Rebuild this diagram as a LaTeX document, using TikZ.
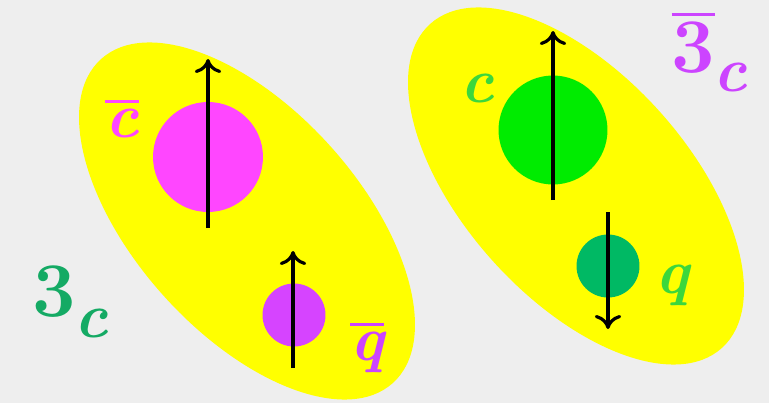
\documentclass[tikz,border=0pt]{standalone}
\usepackage{tikz}
\usetikzlibrary{arrows.meta,positioning,calc}
\tikzset{every picture/.style={line width=0.75pt}}
\definecolor{bggray}{RGB}{238,238,238}
\definecolor{blobyel}{RGB}{255,255,0}
\definecolor{cbarmag}{RGB}{255,70,255}
\definecolor{qbarpur}{RGB}{214,68,255}
\definecolor{lblpur}{RGB}{204,68,255}
\definecolor{cgreen}{RGB}{0,236,0}
\definecolor{qgreen}{RGB}{0,185,100}
\definecolor{lblgreen}{RGB}{60,215,60}
\definecolor{tealgreen}{RGB}{20,170,100}
\newcommand{\barlbl}[1]{\setbox0=\hbox{#1}\rlap{\raisebox{\dimexpr\ht0+3pt\relax}{\rule{\wd0}{2pt}}}\box0}

\begin{document}
\begin{tikzpicture}[x=0.02cm,y=-0.02cm,
    quark/.style={circle,inner sep=0pt},
    spin/.style={line width=1.8pt,-{To[length=8pt,width=15pt]}},
    lbl/.style={inner sep=0pt,anchor=base,font=\fontsize{36}{40}\selectfont\bfseries\itshape},
    rep/.style={inner sep=0pt,anchor=base west,font=\fontsize{44}{48}\selectfont\bfseries}]
    \fill[bggray] (0,0) rectangle (769,403);
    \useasboundingbox (0,0) rectangle (769,403);
    \coordinate (lblob) at (247,221);
    \coordinate (rblob) at (576,186);
    \fill[blobyel, rotate around={-48:(lblob)}] (lblob) ellipse [x radius=218, y radius=112];
    \fill[blobyel, rotate around={-48:(rblob)}] (rblob) ellipse [x radius=218, y radius=112];

    \node[quark, fill=cbarmag, minimum size=2.2cm] (cbar) at (208,157) {};
    \node[quark, fill=qbarpur, minimum size=1.26cm] (qbar) at (294,315) {};
    \node[quark, fill=cgreen, minimum size=2.18cm] (c) at (553,130) {};
    \node[quark, fill=qgreen, minimum size=1.26cm] (q) at (608,266) {};

    \coordinate (cbarS) at (208,228);
    \coordinate (cbarN) at (208,59);
    \coordinate (qbarS) at (293,368);
    \coordinate (qbarN) at (293,251);
    \coordinate (cS) at (553,200);
    \coordinate (cN) at (553,31);
    \coordinate (qN) at (608,212);
    \coordinate (qS) at (608,329);
    \draw[spin] (cbarS) -- (cbarN);
    \draw[spin] (qbarS) -- (qbarN);
    \draw[spin] (cS) -- (cN);
    \draw[spin] (qN) -- (qS);

    \node[lbl, text=cbarmag] (cbarlbl) at (122,137) {\barlbl{c}};
    \node[lbl, text=lblpur] (qbarlbl) at (367,360) {\barlbl{q}};
    \node[lbl, text=lblgreen] (clbl) at (477,102) {c};
    \node[lbl, text=lblgreen] (qlbl) at (672,293) {q};

    \node[rep, text=tealgreen] (trip) at (32,316) {3\hspace{-1pt}\raisebox{-12pt}{\fontsize{36}{40}\selectfont\itshape c}};
    \node[rep, text=lblpur] (antitrip) at (671,72) {\barlbl{3}\hspace{-1pt}\raisebox{-11pt}{\fontsize{36}{40}\selectfont\itshape c}};
\end{tikzpicture}
\end{document}
